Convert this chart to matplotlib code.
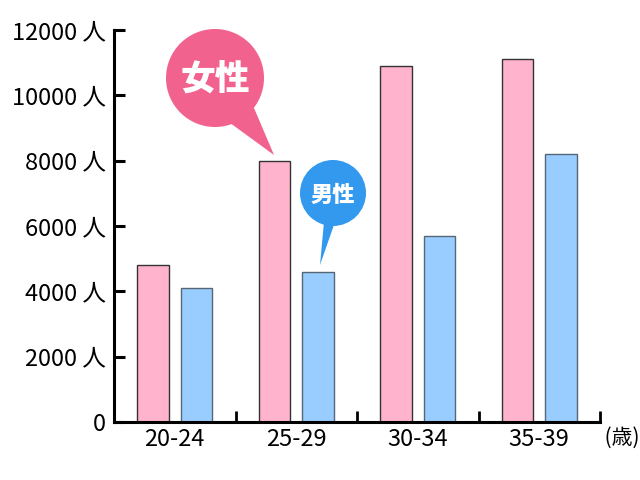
import matplotlib.pyplot as plt
from matplotlib.patches import Circle, Polygon
import numpy as np

# data
age_groups = ['20-24', '25-29', '30-34', '35-39']
women = [4800, 8000, 10900, 11100]
men = [4100, 4600, 5700, 8200]
y_ticks = [0, 2000, 4000, 6000, 8000, 10000, 12000]
y_labels = ['0'] + [f'{v} 人' for v in y_ticks[1:]]

label_font = ['Liberation Sans Narrow', 'Noto Sans CJK JP', 'DejaVu Sans']
cjk_font = ['Noto Sans CJK JP', 'DejaVu Sans']

fig = plt.figure(figsize=(6.4, 4.8), dpi=100)
ax = fig.add_axes([114 / 640, 1 - 422 / 480, 486 / 640, 392 / 480])

x = np.arange(len(age_groups))
ax.bar(x - 0.18, women, width=0.26, color='#FFB3CC', edgecolor='#333333', linewidth=1)
ax.bar(x + 0.18, men, width=0.26, color='#99CCFF', edgecolor='#556677', linewidth=1)

ax.set_xlim(-0.5, 3.5)
ax.set_ylim(0, 12000)

for s in ['top', 'right']:
    ax.spines[s].set_visible(False)
ax.spines['left'].set_linewidth(2.2)
ax.spines['bottom'].set_linewidth(2.2)

ax.set_yticks(y_ticks)
ax.set_yticklabels(y_labels, family=label_font, fontsize=17)
ax.tick_params(axis='y', direction='in', length=8, width=2.2, pad=6)

# category boundaries get the tick marks, labels sit at centres
ax.set_xticks([0.5, 1.5, 2.5, 3.5])
ax.set_xticklabels([])
ax.set_xticks(x, minor=True)
ax.set_xticklabels(age_groups, minor=True, family=label_font, fontsize=17)
ax.tick_params(axis='x', which='major', direction='in', length=8, width=2)
ax.tick_params(axis='x', which='minor', length=0, pad=4)
ax.text(3.5, -0.041, ' (歳)', transform=ax.get_xaxis_transform(), ha='left', va='center',
        family=cjk_font, fontsize=15)

# speech bubbles in pixel coordinates
ov = fig.add_axes([0, 0, 1, 1], zorder=5)
ov.set_xlim(0, 640)
ov.set_ylim(480, 0)
ov.axis('off')

pink = '#F2628F'
ov.add_patch(Circle((215, 78), 49, color=pink, lw=0))
ov.add_patch(Polygon([[226, 120], [254, 108], [274, 155]], closed=True, color=pink, lw=0))
ov.text(215, 80, '女性', ha='center', va='center', color='white', fontsize=25,
        fontweight='heavy', family=cjk_font)

blue = '#3399EE'
ov.add_patch(Circle((333, 193), 33, color=blue, lw=0))
ov.add_patch(Polygon([[324, 222], [335, 222], [320, 265]], closed=True, color=blue, lw=0))
ov.text(333, 195, '男性', ha='center', va='center', color='white', fontsize=16,
        fontweight='heavy', family=cjk_font)

plt.savefig('out.png', dpi=100)
